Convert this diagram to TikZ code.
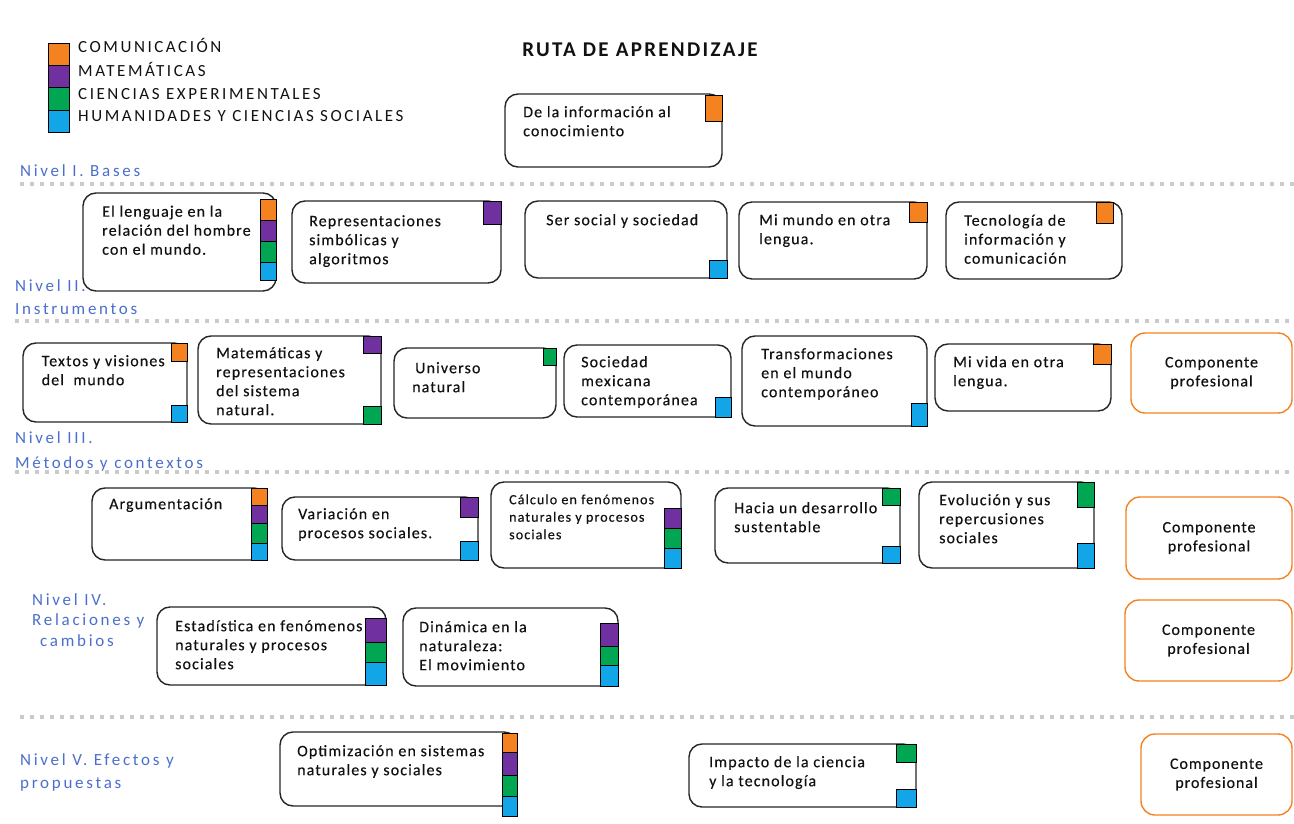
\documentclass[tikz,border=0pt]{standalone}
\usepackage{fontspec}
\setmainfont{Carlito}
\definecolor{cOr}{HTML}{F58220}
\definecolor{cPu}{HTML}{7030A0}
\definecolor{cGr}{HTML}{00A651}
\definecolor{cBl}{HTML}{12A5E8}
\definecolor{cNiv}{HTML}{4A6FCC}
\definecolor{cTxt}{HTML}{111111}
\definecolor{cSep}{HTML}{CACACA}
\newcommand\sqr[5]{\draw[sqbox,fill=#1] (#2,#3) rectangle (#4,#5);}
\newcommand\card[6][card]{\node[#1, minimum width={#5-#3}, minimum height={#6-#4}, inner sep=0pt] (#2) at ({(#3+#5)/2},{(#4+#6)/2}) {};}
\newcommand\ctext[4]{\node[txt] (#1) at (#2,{#3-13.3}) {\strut #4};}
\begin{document}
\begin{tikzpicture}[x=1pt,y=-1pt,
  card/.style={draw=black!85, line width=1.4pt, rounded corners=13pt, fill=white},
  profcard/.style={draw=cOr, line width=1.4pt, rounded corners=14pt, fill=white, align=center, text=cTxt,
     font=\fontsize{16}{19}\selectfont\addfontfeature{LetterSpace=6,FakeBold=0.3}},
  txt/.style={anchor=north west, inner sep=0pt, align=left, text=cTxt,
     font=\fontsize{16}{19}\selectfont\addfontfeature{LetterSpace=7,FakeBold=0.3}},
  smalltxt/.style={anchor=north west, inner sep=0pt, align=left, text=cTxt,
     font=\fontsize{14}{17.5}\selectfont\addfontfeature{LetterSpace=8,FakeBold=0.3}},
  sqbox/.style={draw=black, line width=0.9pt},
  nivel/.style={anchor=base west, inner sep=0pt, text=cNiv,
     font=\fontsize{17}{20}\selectfont\addfontfeature{LetterSpace=16}},
  legtxt/.style={anchor=base west, inner sep=0pt, text=cTxt,
     font=\fontsize{17}{20}\selectfont\addfontfeature{LetterSpace=15}},
  sepline/.style={draw=cSep, line width=3.5pt, dash pattern=on 4pt off 6pt}
]
\useasboundingbox[fill=white] (0,0) rectangle (1294,824);

% separators
\coordinate (s1a) at (20,184);  \coordinate (s1b) at (1294,184);
\coordinate (s2a) at (15,321);  \coordinate (s2b) at (1294,321);
\coordinate (s3a) at (15,472);  \coordinate (s3b) at (1294,472);
\coordinate (s4a) at (20,717);  \coordinate (s4b) at (1294,717);
\draw[sepline] (s1a) -- (s1b);
\draw[sepline] (s2a) -- (s2b);
\draw[sepline] (s3a) -- (s3b);
\draw[sepline] (s4a) -- (s4b);

% legend
\sqr{cOr}{48}{43.5}{69}{65.5}
\sqr{cPu}{48}{65.5}{69}{87.5}
\sqr{cGr}{48}{87.5}{69}{110}
\sqr{cBl}{48}{110}{69}{132}
\node[legtxt] (l1) at (78,53) {COMUNICACIÓN};
\node[legtxt] (l2) at (78,77) {MATEMÁTICAS};
\node[legtxt] (l3) at (78,99.5) {CIENCIAS EXPERIMENTALES};
\node[legtxt] (l4) at (78,122) {HUMANIDADES Y CIENCIAS SOCIALES};

% title
\node[text=cTxt, font=\fontsize{21}{24}\selectfont\bfseries\addfontfeature{LetterSpace=11}] (title) at (640,50) {RUTA DE APRENDIZAJE};

% top box
\card{t0}{505}{94}{722}{167}
\sqr{cOr}{705}{95}{722}{121}
\ctext{t0t}{523}{117}{De la información al\\conocimiento}

% Nivel I
\card{b1}{83}{193}{276}{291}
\sqr{cOr}{260}{199}{276}{220.5}
\sqr{cPu}{260}{220.5}{276}{241.5}
\sqr{cGr}{260}{241.5}{276}{262.5}
\sqr{cBl}{260}{262.5}{276}{280}
\ctext{b1t}{102}{216.5}{El lenguaje en la\\relación del hombre\\con el mundo.}

\card{b2}{292}{201}{501}{283}
\sqr{cPu}{483}{201}{501}{224}
\ctext{b2t}{309}{226}{Representaciones\\simbólicas y\\algoritmos}

\card{b3}{525}{201}{727}{278}
\sqr{cBl}{709}{260.5}{727}{278}
\ctext{b3t}{546}{225}{Ser social y sociedad}

\card{b4}{739}{202}{927}{279}
\sqr{cOr}{909}{202.5}{927}{222.5}
\ctext{b4t}{759}{225}{Mi mundo en otra\\lengua.}

\card{b5}{946}{202}{1122}{279}
\sqr{cOr}{1096}{202.5}{1113}{223}
\ctext{b5t}{964}{225.5}{Tecnología de\\información y\\comunicación}

% Nivel II
\card{c1}{23}{343}{187}{422}
\sqr{cOr}{171}{343}{187}{361}
\sqr{cBl}{171}{405}{187}{422}
\ctext{c1t}{41.5}{366}{Textos y visiones\\del~ mundo}

\card{c2}{198}{336}{381}{424}
\sqr{cPu}{363}{336}{381}{353}
\sqr{cGr}{363}{406}{381}{424}
\ctext{c2t}{216}{358}{Matemáticas y\\representaciones\\del sistema\\natural.}

\card{c3}{394}{348}{556}{418}
\sqr{cGr}{543}{348}{556}{365}
\ctext{c3t}{412}{373}{\hspace*{3pt}Universo\\natural}

\card{c4}{564}{345}{731}{417}
\sqr{cBl}{715}{397}{731}{417}
\ctext{c4t}{581}{367}{Sociedad\\mexicana\\contemporánea}

\card{c5}{742}{336}{927}{426}
\sqr{cBl}{911.5}{403}{927}{426}
\ctext{c5t}{761}{359}{Transformaciones\\en el mundo\\contemporáneo}

\card{c6}{935}{344}{1111}{411}
\sqr{cOr}{1093}{344}{1111}{364}
\ctext{c6t}{953}{367}{Mi vida en otra\\lengua.}

\node[profcard, minimum width=161pt, minimum height=80pt, inner sep=0pt] (p1) at (1211.5,373) {Componente\\profesional};

% Nivel III
\card{d1}{92}{488}{267}{560}
\sqr{cOr}{251}{488}{267}{505}
\sqr{cPu}{251}{505}{267}{523}
\sqr{cGr}{251}{523}{267}{543}
\sqr{cBl}{251}{543}{267}{560}
\ctext{d1t}{109}{509}{Argumentación}

\card{d2}{282}{497}{478}{560}
\sqr{cPu}{460}{497}{478}{517}
\sqr{cBl}{460}{541}{478}{560}
\ctext{d2t}{298}{519}{Variación en\\procesos sociales.}

\card{d3}{491}{482}{681}{568}
\sqr{cPu}{664}{508}{681}{528}
\sqr{cGr}{664}{528}{681}{548}
\sqr{cBl}{664}{548}{681}{568}
\node[smalltxt] (d3t) at (509,{504-12.25}) {\strut Cálculo en fenómenos\\naturales y procesos\\sociales};

\card{d4}{715}{488}{900}{563}
\sqr{cGr}{882}{488}{900}{505}
\sqr{cBl}{882}{546}{900}{563}
\ctext{d4t}{734}{513}{Hacia un desarrollo\\sustentable}

\card{d5}{919}{482}{1094}{568}
\sqr{cGr}{1077}{482}{1094}{507}
\sqr{cBl}{1077}{543}{1094}{568}
\ctext{d5t}{939}{505}{Evolución y sus\\repercusiones\\sociales}

\node[profcard, minimum width=166pt, minimum height=82pt, inner sep=0pt] (p2) at (1209,538) {Componente\\profesional};

% Nivel IV
\card{e1}{157}{607}{386}{685}
\sqr{cPu}{365.5}{618}{386.5}{642}
\sqr{cGr}{365.5}{642}{386.5}{662.5}
\sqr{cBl}{365.5}{662.5}{386.5}{685.5}
\ctext{e1t}{175}{631}{Estadística en fenómenos\\naturales y procesos\\sociales}

\card{e2}{403}{608}{618}{686}
\sqr{cPu}{600}{623}{618}{646}
\sqr{cGr}{600}{646}{618}{665}
\sqr{cBl}{600}{665}{618}{686}
\ctext{e2t}{419}{632}{Dinámica en la\\naturaleza:\\El movimiento}

\node[profcard, minimum width=167pt, minimum height=81pt, inner sep=0pt] (p3) at (1208.5,640.5) {Componente\\profesional};

% Nivel V
\card{f1}{280}{732}{517}{806}
\sqr{cOr}{502}{733}{517}{752}
\sqr{cPu}{502}{752}{517}{775}
\sqr{cGr}{502}{775}{517}{796}
\sqr{cBl}{502}{796}{517}{816}
\ctext{f1t}{297}{756}{Optimización en sistemas\\naturales y sociales}

\card{f2}{689}{744}{916}{807}
\sqr{cGr}{896}{744}{916}{762}
\sqr{cBl}{896}{789}{916}{807}
\ctext{f2t}{709}{767}{Impacto de la ciencia\\y la tecnología}

\node[profcard, minimum width=151pt, minimum height=81pt, inner sep=0pt] (p4) at (1216.5,774.5) {Componente\\profesional};

% level labels (drawn last, over the cards)
\node[nivel] (n1) at (20,177) {Nivel I. Bases};
\node[nivel] (n2a) at (15,291) {Nivel II.};
\node[nivel] (n2b) at (15,314) {Instrumentos};
\node[nivel] (n3a) at (15,443) {Nivel III.};
\node[nivel] (n3b) at (15,468) {Métodos y contextos};
\node[nivel] (n4a) at (32,605) {Nivel IV.};
\node[nivel] (n4b) at (32,625) {Relaciones y};
\node[nivel] (n4c) at (40,646) {cambios};
\node[nivel] (n5a) at (20,765) {Nivel V. Efectos y};
\node[nivel] (n5b) at (20,788) {propuestas};
\end{tikzpicture}
\end{document}
